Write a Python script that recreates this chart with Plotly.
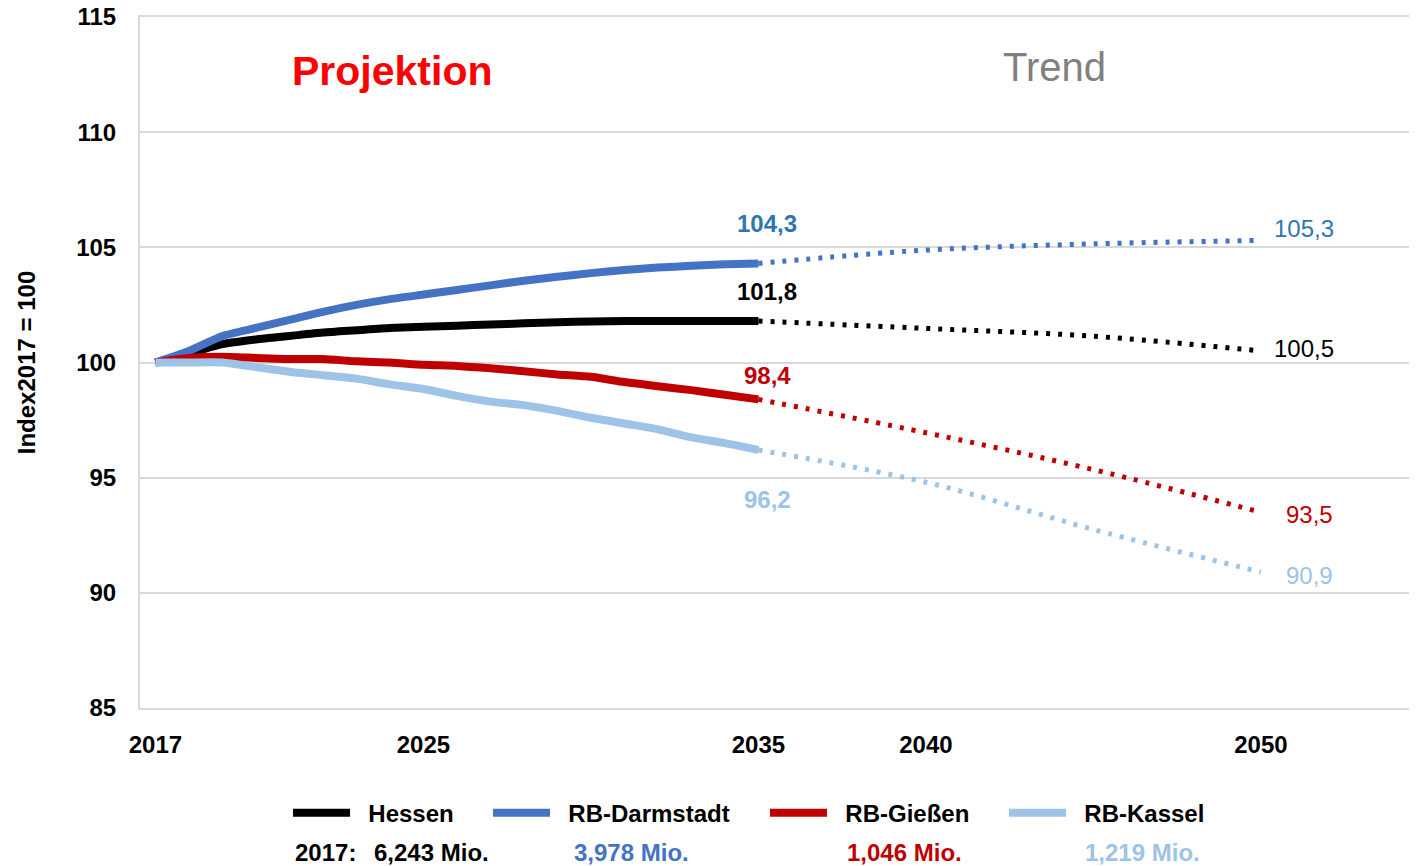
import plotly.graph_objects as go

# ---- data (Index 2017 = 100) ----
years_proj = list(range(2017, 2036))
hessen_proj = [100.0, 100.4, 100.8, 101.0, 101.15, 101.3, 101.4, 101.5, 101.55, 101.6,
               101.65, 101.7, 101.75, 101.78, 101.8, 101.8, 101.8, 101.8, 101.8]
darmstadt_proj = [100.0, 100.5, 101.15, 101.5, 101.85, 102.2, 102.5, 102.75, 102.95, 103.15,
                  103.35, 103.55, 103.72, 103.88, 104.02, 104.12, 104.2, 104.27, 104.3]
giessen_proj = [100.0, 100.2, 100.25, 100.2, 100.15, 100.15, 100.05, 100.0, 99.9, 99.85,
                99.75, 99.62, 99.48, 99.38, 99.15, 98.97, 98.8, 98.6, 98.4]
kassel_proj = [100.0, 100.0, 100.0, 99.8, 99.6, 99.45, 99.3, 99.05, 98.85, 98.55,
               98.3, 98.15, 97.9, 97.6, 97.35, 97.1, 96.75, 96.5, 96.2]

years_trend = [2035, 2040, 2045, 2050]
hessen_trend = [101.8, 101.48, 101.14, 100.5]
darmstadt_trend = [104.3, 104.88, 105.15, 105.3]
giessen_trend = [98.4, 96.95, 95.35, 93.5]
kassel_trend = [96.2, 94.8, 92.75, 90.9]

names = ["Hessen", "RB-Darmstadt", "RB-Gießen", "RB-Kassel"]
pop_2017 = ["6,243 Mio.", "3,978 Mio.", "1,046 Mio.", "1,219 Mio."]
x_ticks = [2017, 2025, 2035, 2040, 2050]
y_ticks = [85, 90, 95, 100, 105, 110, 115]

colors = ["#000000", "#4472C4", "#C00000", "#9DC3E6"]
label_colors = ["#000000", "#2E75B6", "#C00000", "#9DC3E6"]
FONT = "Liberation Sans, Arial, sans-serif"
FS = 24


def de(v):
    return f"{v:.1f}".replace(".", ",")


proj = [hessen_proj, darmstadt_proj, giessen_proj, kassel_proj]
trend = [hessen_trend, darmstadt_trend, giessen_trend, kassel_trend]

fig = go.Figure()
legend_ids = ["legend", "legend2", "legend3", "legend4"]

for i in range(4):
    fig.add_trace(go.Scatter(
        x=years_trend, y=trend[i], mode="lines",
        line=dict(color=colors[i], width=5, dash="4px,8px", shape="spline"),
        showlegend=False, hoverinfo="skip",
    ))
for i in range(4):
    fig.add_trace(go.Scatter(
        x=years_proj, y=proj[i], mode="lines", name="\u00a0\u00a0" + names[i],
        line=dict(color=colors[i], width=8, shape="spline", smoothing=0.6),
        legend=legend_ids[i],
    ))

# value labels at 2035 (projection end) and 2050 (trend end)
proj_shift = [30, 40, 24, -49]
for i in range(4):
    fig.add_annotation(
        x=years_proj[-1], y=proj[i][-1], text=de(proj[i][-1]), showarrow=False,
        xshift=9, yshift=proj_shift[i],
        font=dict(family=FONT, size=FS, color=label_colors[i], weight="bold"),
    )
trend_shift = [(11, 2), (11, 12), (23, -2), (23, -3)]
for i in range(4):
    fig.add_annotation(
        x=years_trend[-1], y=trend[i][-1], text=de(trend[i][-1]), showarrow=False,
        xanchor="left", xshift=trend_shift[i][0], yshift=trend_shift[i][1],
        font=dict(family=FONT, size=FS, color=label_colors[i]),
    )

fig.add_annotation(x=2024.06, y=112.65, text="Projektion", showarrow=False,
                   font=dict(family=FONT, size=41, color="#FF0000", weight="bold"))
fig.add_annotation(x=2043.85, y=112.83, text="Trend", showarrow=False,
                   font=dict(family=FONT, size=40, color="#808080"))

# 2017 population row under legend
W = 1277.0
fig.add_annotation(x=(293 - 140) / W, y=-0.2098, xref="paper", yref="paper",
                   text="2017:", showarrow=False, xanchor="left", yanchor="middle",
                   font=dict(family=FONT, size=FS, color="#000000", weight="bold"))
pop_x = [372, 572, 845, 1083]
for i in range(4):
    fig.add_annotation(x=(pop_x[i] - 140) / W, y=-0.2098, xref="paper", yref="paper",
                       text=pop_2017[i], showarrow=False, xanchor="left", yanchor="middle",
                       font=dict(family=FONT, size=FS, color=colors[i], weight="bold"))

legend_x = [288, 488, 765, 1004]
legends = {}
for i, lid in enumerate(legend_ids):
    legends[lid] = dict(
        x=(legend_x[i] - 140) / W, y=-0.152, xanchor="left", yanchor="middle",
        orientation="h", bgcolor="rgba(0,0,0,0)", itemwidth=57,
        font=dict(family=FONT, size=FS, color="#000000", weight="bold"),
    )

# page body has an 8px margin, so the plot area is shifted back by 8px
fig.update_layout(
    width=1417, height=866,
    margin=dict(l=132, r=8, t=9, b=166),
    plot_bgcolor="#ffffff", paper_bgcolor="#ffffff",
    font=dict(family=FONT, size=FS, color="#000000"),
    xaxis=dict(
        range=[2016.54, 2054.66], tickvals=x_ticks, showgrid=False, zeroline=False,
        showline=True, mirror=True, linecolor="#D9D9D9", linewidth=2, ticks="",
        ticklabelstandoff=14, automargin=False,
        tickfont=dict(family=FONT, size=FS, color="#000000", weight="bold"),
    ),
    yaxis=dict(
        range=[85, 115], tickvals=y_ticks, showgrid=True, gridcolor="#D9D9D9",
        gridwidth=2, zeroline=False, showline=True, linecolor="#D9D9D9", linewidth=2,
        ticks="", ticklabelstandoff=17, ticklabeloverflow="allow", automargin="left",
        tickfont=dict(family=FONT, size=FS, color="#000000", weight="bold"),
        title=dict(text="Index2017 = 100", standoff=34,
                   font=dict(family=FONT, size=FS, color="#000000", weight="bold")),
    ),
    **legends,
)

fig.write_html("out.html")
